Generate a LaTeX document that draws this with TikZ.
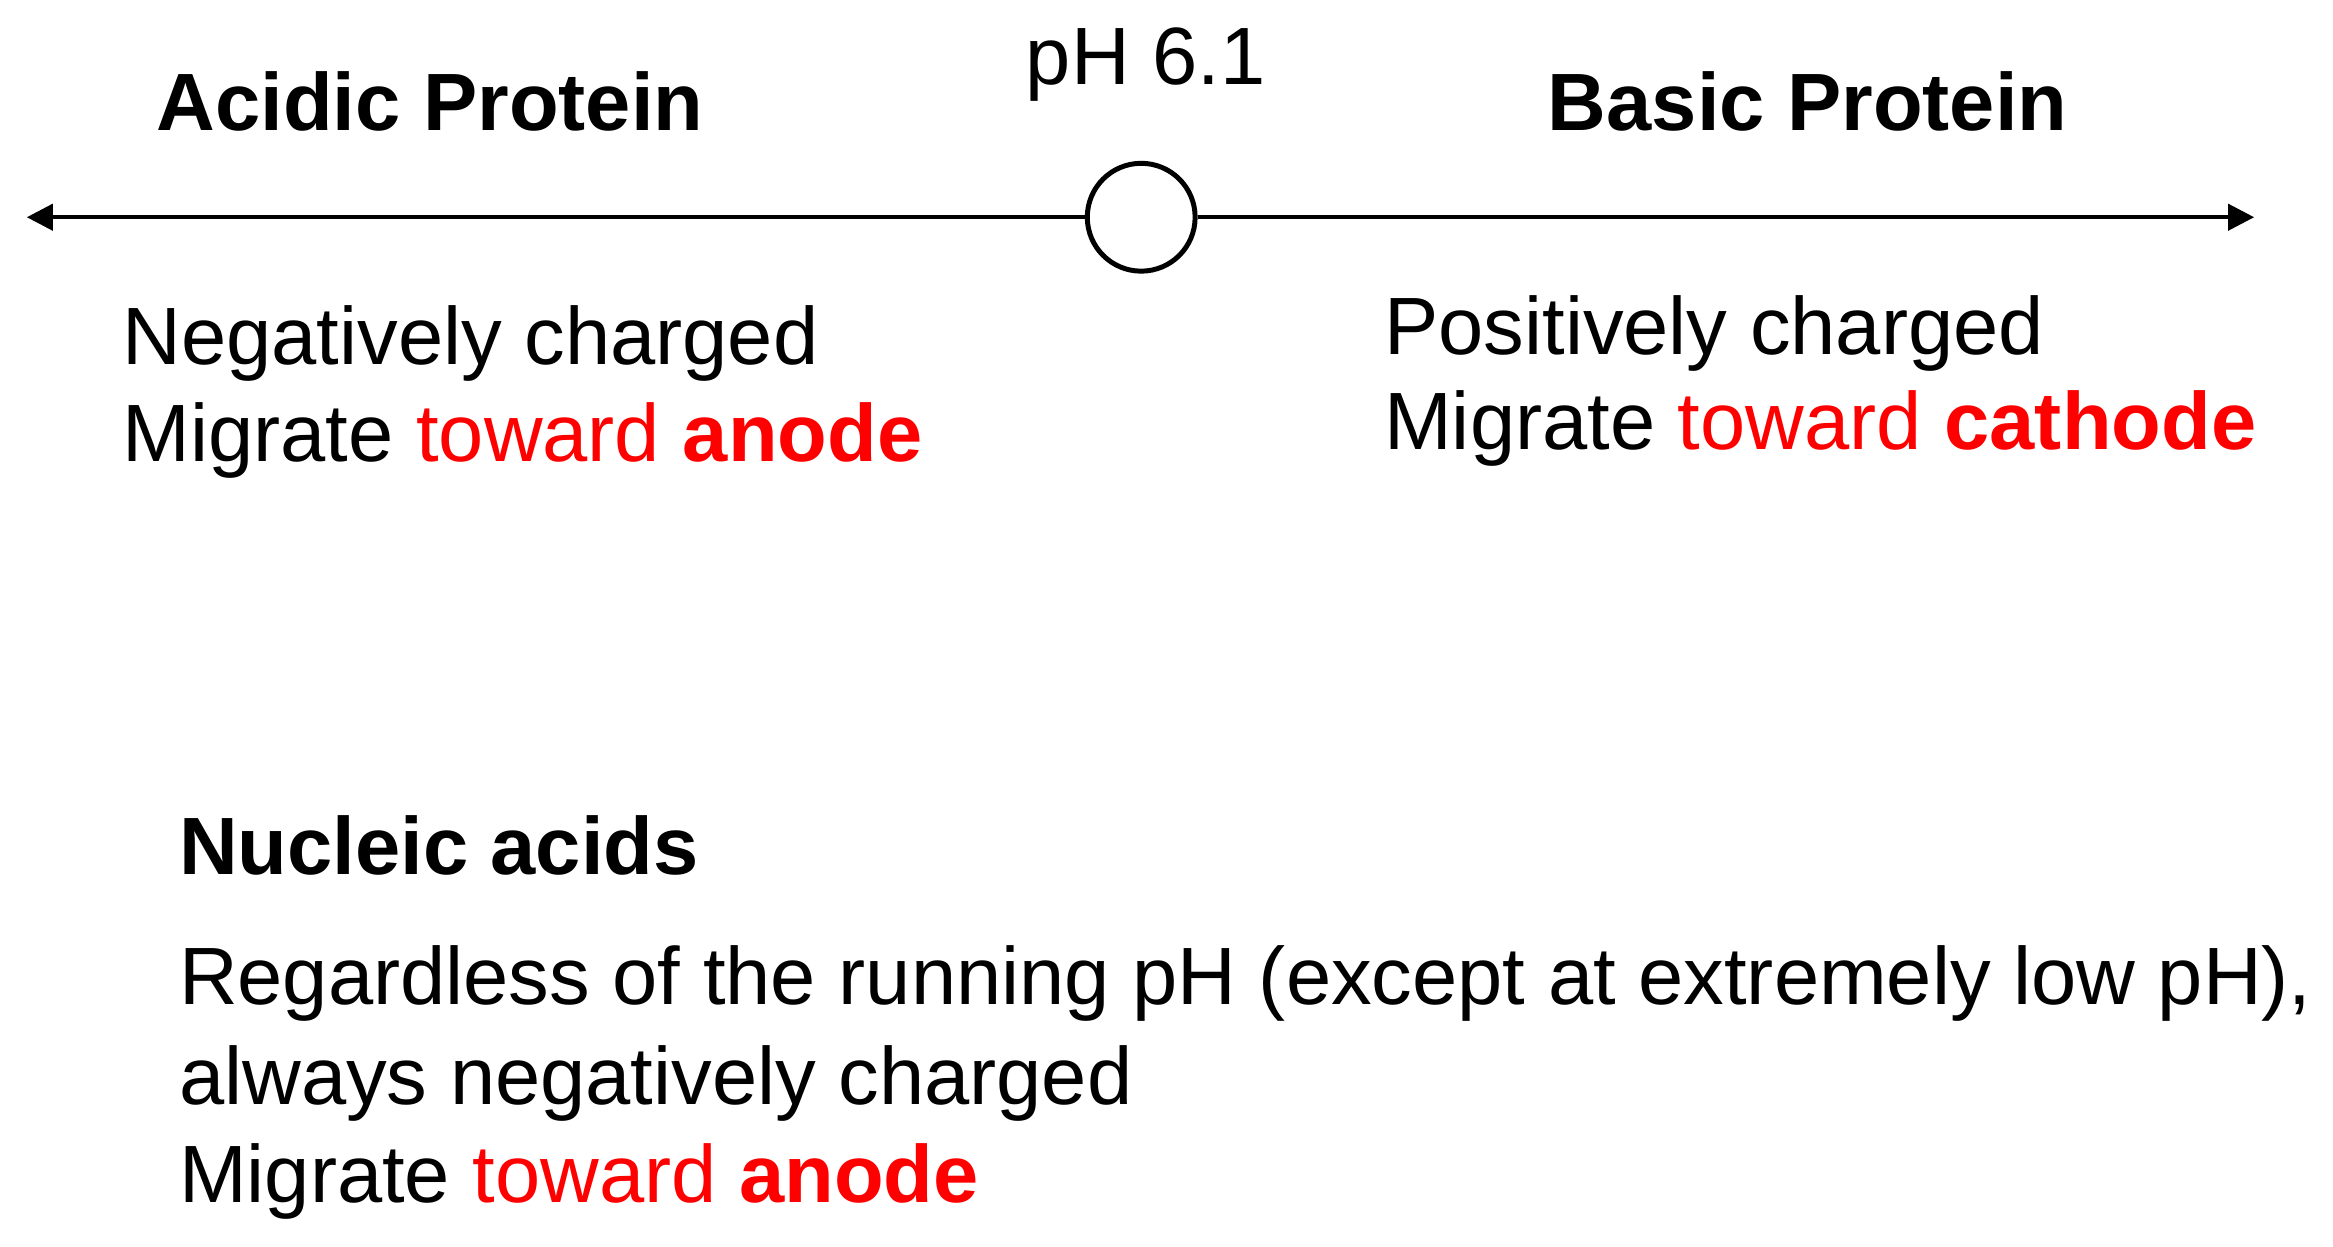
\documentclass[tikz,border=0pt]{standalone}
\usepackage{fontspec}
\setmainfont{Liberation Sans}
\usepackage{tikz}
\usetikzlibrary{arrows.meta,positioning}

\definecolor{migred}{RGB}{255,0,0}
\newcommand{\towards}[1]{\textcolor{migred}{toward \textbf{#1}}}

\begin{document}
\begin{tikzpicture}[x=0.02cm,y=-0.02cm,
    every node/.style={font=\fontsize{31.1pt}{37pt}\selectfont,inner sep=0pt},
    txt/.style={anchor=base west},
    axis/.style={line width=1.6pt,-{Triangle[length=10pt,width=10pt]}}]
  \useasboundingbox (0,0) rectangle (1568,838);
  \node[circle,draw,line width=1.9pt,minimum size=1.45cm] (iep) at (767,146) {};
  \node (ph)   [anchor=base] at (770,57) {pH 6.1};
  \coordinate (lend) at (18,146);
  \coordinate (rend) at (1515,146);
  \draw[axis] (iep) -- (lend);
  \draw[axis] (iep) -- (rend);
  % acidic side
  \node[txt] (acid)    at (105,88)  {\textbf{Acidic Protein}};
  \node[txt] (neg)     at (82,245)  {Negatively charged};
  \node[txt] (negmig)  at (82,310)  {Migrate \towards{anode}};
  % basic side
  \node[txt] (basic)   at (1040,88) {\textbf{Basic Protein}};
  \node[txt] (pos)     at (930,238) {Positively charged};
  \node[txt] (posmig)  at (930,302) {Migrate \towards{cathode}};
  % nucleic acids
  \node[txt] (na)      at (120,588) {\textbf{Nucleic acids}};
  \node[txt] (nareg)   at (120,675) {Regardless of the running pH (except at extremely low pH),};
  \node[txt] (naneg)   at (120,742) {always negatively charged};
  \node[txt] (namig)   at (120,808) {Migrate \towards{anode}};
\end{tikzpicture}
\end{document}
